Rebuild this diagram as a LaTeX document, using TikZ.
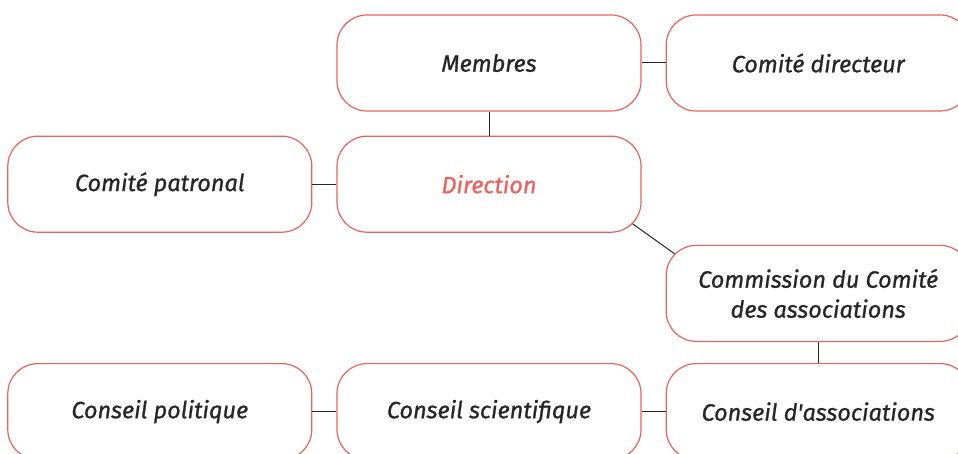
\documentclass[tikz,border=0pt]{standalone}
\usepackage{fontspec}
\setmainfont{Fira Sans}
\newfontfamily\boxfont{Fira Sans}[FakeBold=0.9]
\usetikzlibrary{positioning}
\definecolor{boxred}{RGB}{236,98,92}
\tikzset{
    orgbox/.style={draw=boxred, line width=1.2pt, rounded corners=30pt, fill=white,
        minimum width=304pt, minimum height=96pt, inner sep=0pt, align=center,
        font=\boxfont\fontsize{23.5}{30}\selectfont\itshape, text=black!85},
    link/.style={draw=black!85, line width=1pt}
}
\begin{document}
\begin{tikzpicture}[x=1pt, y=1pt]
    \useasboundingbox (0,0) rectangle (958,453);
    \clip (0,0) rectangle (958,453);

    \node [orgbox] (membres) at (489,390) {Membres};
    \node [orgbox, right=24pt of membres] (directeur) {Comité directeur};
    \node [orgbox, below=24pt of membres, text=boxred] (direction) {Direction};
    \node [orgbox, left=24pt of direction] (patronal) {Comité patronal};
    \node [orgbox, below right=12pt and 24pt of direction] (commission) {Commission du Comité\\des associations};
    \node [orgbox, below=21pt of commission] (associations) {Conseil d\textquotesingle associations};
    \node [orgbox, left=24pt of associations] (scientifique) {Conseil scientifique};
    \node [orgbox, left=24pt of scientifique] (politique) {Conseil politique};

    \draw [link] (membres) -- (directeur);
    \draw [link] (membres) -- (direction);
    \draw [link] (patronal) -- (direction);
    \draw [link] ([shift={(-9pt,9pt)}]direction.south east) -- ([shift={(9pt,-9pt)}]commission.north west);
    \draw [link] (commission) -- (associations);
    \draw [link] (politique) -- (scientifique);
    \draw [link] (scientifique) -- (associations);
\end{tikzpicture}
\end{document}
